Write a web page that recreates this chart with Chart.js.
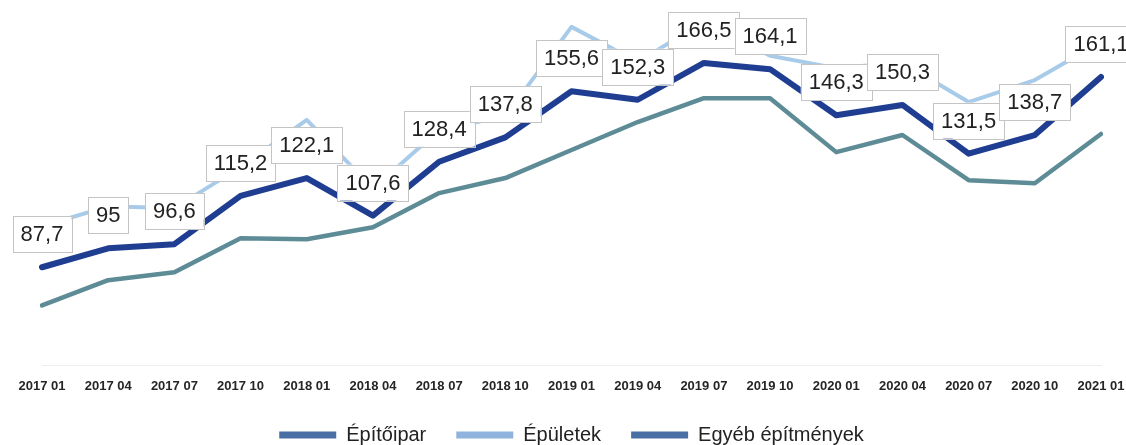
<!DOCTYPE html>
<html>
<head>
<meta charset="utf-8">
<script src="https://cdn.jsdelivr.net/npm/chart.js@4"></script>
<style>
  html, body { margin: 0; padding: 0; background: #ffffff; }
  #wrap { width: 1126px; height: 445px; position: relative; }
</style>
</head>
<body>
<div id="wrap"><canvas id="c" width="1126" height="445"></canvas></div>
<script>
const categories = ["2017 01","2017 04","2017 07","2017 10","2018 01","2018 04","2018 07","2018 10","2019 01","2019 04","2019 07","2019 10","2020 01","2020 04","2020 07","2020 10","2021 01"];
const epitoipar = [87.7, 95, 96.6, 115.2, 122.1, 107.6, 128.4, 137.8, 155.6, 152.3, 166.5, 164.1, 146.3, 150.3, 131.5, 138.7, 161.1];
const epuletek = [103.5, 111.2, 110.5, 126.3, 144.5, 118.0, 140.6, 146.0, 180.4, 166.9, 182.3, 169.3, 164.5, 166.6, 151.4, 159.9, 174.6];
const egyeb = [73.0, 82.7, 85.8, 98.9, 98.5, 103.1, 116.3, 122.1, 132.9, 143.7, 152.9, 152.9, 132.1, 138.7, 121.3, 120.1, 139.1];
const seriesNames = ["Építőipar", "Épületek", "Egyéb építmények"];

const labelPlugin = {
  id: 'boxLabels',
  afterDatasetsDraw(chart) {
    const ctx = chart.ctx;
    const meta = chart.getDatasetMeta(0);
    ctx.save();
    ctx.font = '22px "Liberation Sans", Arial, sans-serif';
    ctx.textAlign = 'center';
    ctx.textBaseline = 'middle';
    meta.data.forEach((pt, i) => {
      const txt = String(epitoipar[i]).replace('.', ',');
      const w = ctx.measureText(txt).width + 16;
      const h = 36;
      const cx = pt.x;
      const cy = pt.y - 33;
      ctx.fillStyle = '#ffffff';
      ctx.fillRect(cx - w / 2, cy - h / 2, w, h);
      ctx.strokeStyle = '#c4c4c4';
      ctx.lineWidth = 1;
      ctx.strokeRect(Math.round(cx - w / 2) + 0.5, Math.round(cy - h / 2) + 0.5, Math.round(w), h);
      ctx.fillStyle = '#222222';
      ctx.fillText(txt, cx, cy + 1);
    });
    ctx.restore();
  }
};

new Chart(document.getElementById('c'), {
  type: 'line',
  data: {
    labels: categories,
    datasets: [
      { label: seriesNames[0], data: epitoipar, borderColor: '#1f3d91', backgroundColor: '#4a6fa5', borderWidth: 6, order: 0 },
      { label: seriesNames[1], data: epuletek, borderColor: '#a8cbe9', backgroundColor: '#8fb3dc', borderWidth: 4, order: 2 },
      { label: seriesNames[2], data: egyeb, borderColor: '#5e8c96', backgroundColor: '#4a6fa5', borderWidth: 4.5, order: 1 }
    ]
  },
  options: {
    responsive: false,
    animation: false,
    devicePixelRatio: 1,
    elements: { point: { radius: 0, hoverRadius: 0 }, line: { tension: 0, borderCapStyle: 'round', borderJoinStyle: 'round' } },
    layout: { padding: { left: 42, right: 25, top: 2, bottom: -10 } },
    scales: {
      x: {
        offset: false,
        grid: { display: false, drawTicks: false },
        border: { display: true, color: '#eeeeee', width: 1 },
        ticks: {
          padding: 14,
          maxRotation: 0,
          autoSkip: false,
          color: '#262626',
          font: { family: '"Liberation Sans", Arial, sans-serif', size: 13, weight: 'bold' }
        },
        afterFit(scale) {
          scale.height = 30;
          scale.paddingLeft = 0;
          scale.paddingRight = 0;
        }
      },
      y: {
        display: false,
        min: 50,
        max: 190
      }
    },
    plugins: {
      legend: {
        position: 'bottom',
        labels: {
          boxWidth: 57,
          boxHeight: 7,
          padding: 30,
          color: '#222222',
          font: { family: '"Liberation Sans", Arial, sans-serif', size: 20 },
          generateLabels(chart) {
            return chart.data.datasets.map((ds, i) => ({
              text: ds.label,
              fillStyle: ds.backgroundColor,
              strokeStyle: ds.backgroundColor,
              lineWidth: 0,
              hidden: false,
              datasetIndex: i,
              fontColor: '#222222'
            }));
          }
        }
      },
      tooltip: { enabled: false }
    }
  },
  plugins: [labelPlugin]
});
</script>
</body>
</html>
